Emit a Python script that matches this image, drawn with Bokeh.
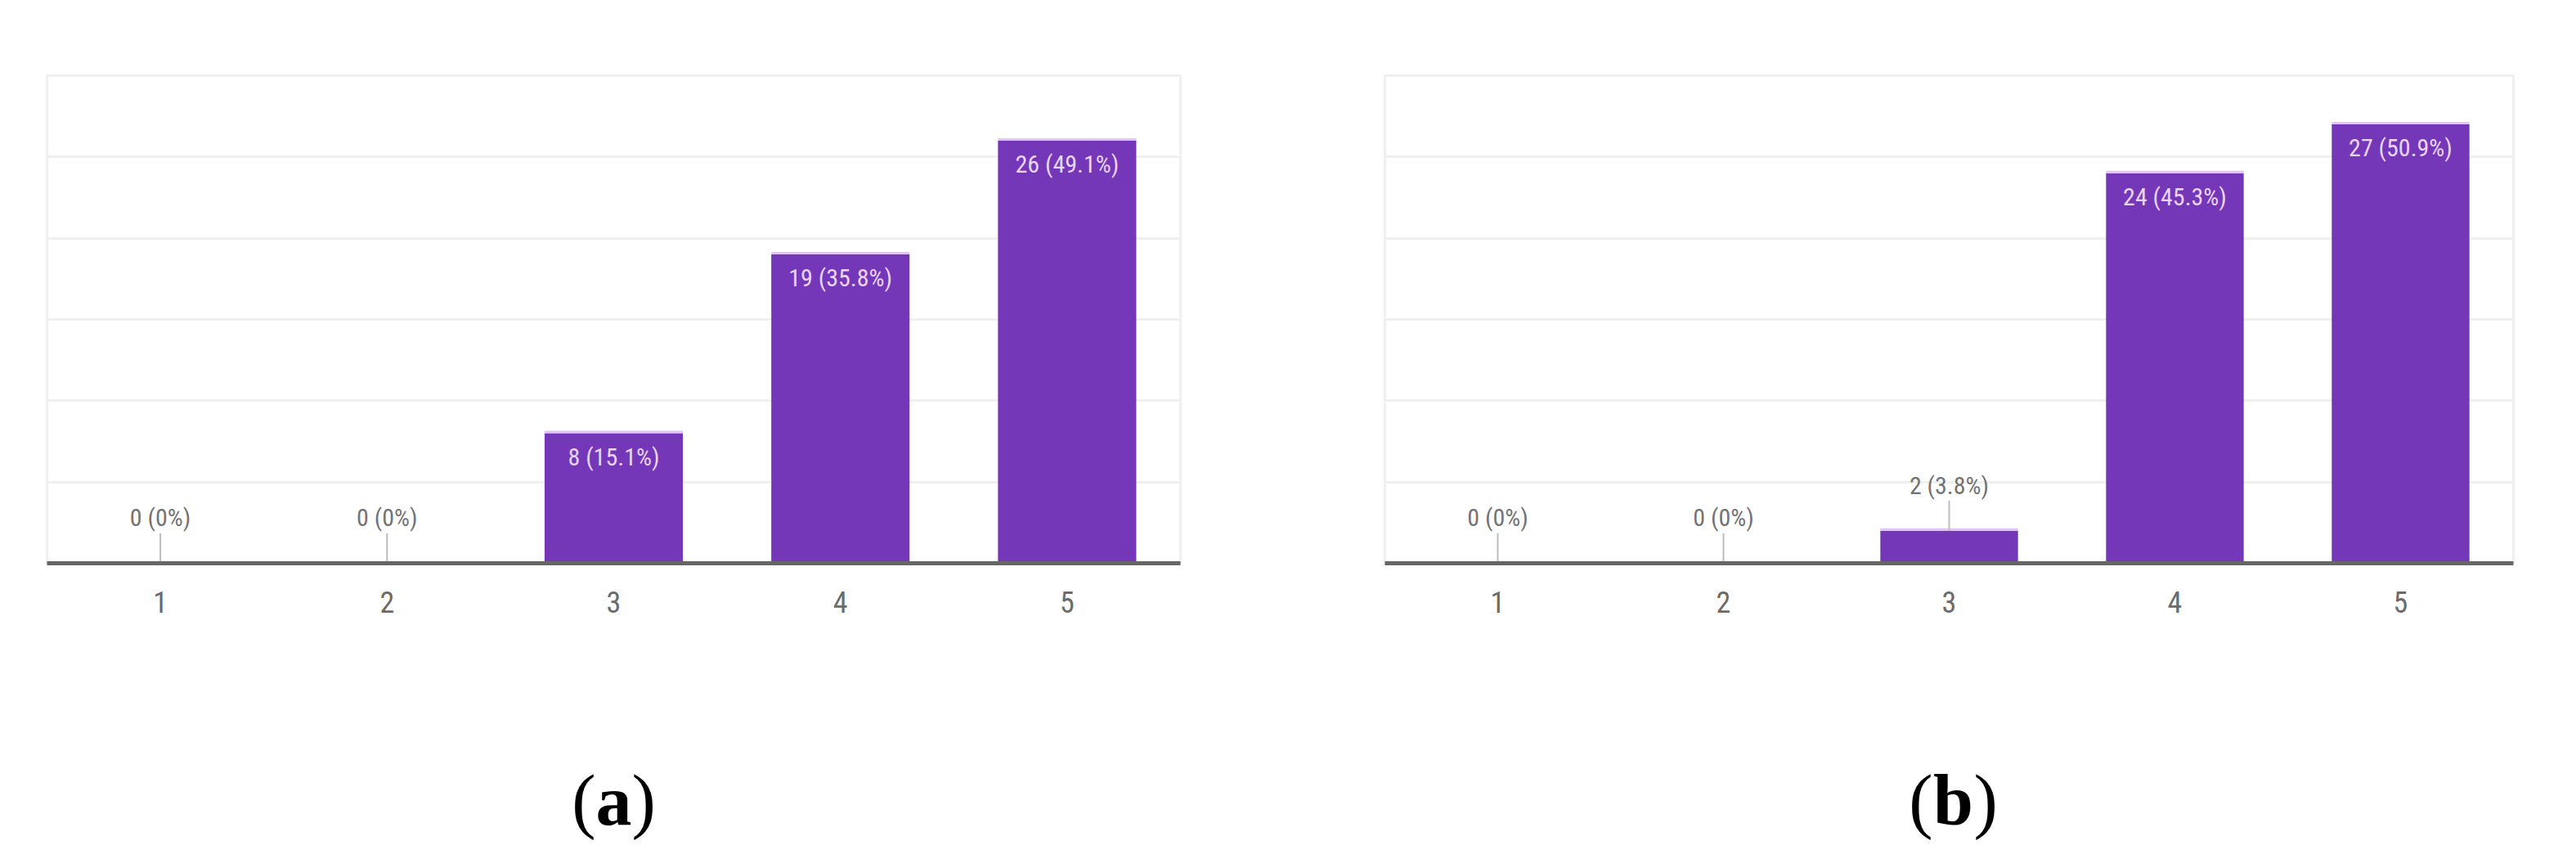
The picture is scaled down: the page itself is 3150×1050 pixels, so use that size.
from bokeh.plotting import figure
from bokeh.models import Range1d, FactorRange, FixedTicker, ColumnDataSource
from bokeh.layouts import row, column
from bokeh.core.properties import value
from bokeh.embed import file_html
from bokeh.resources import INLINE

# ---- data ----
categories = ["1", "2", "3", "4", "5"]
values_a = [0, 0, 8, 19, 26]
values_b = [0, 0, 2, 24, 27]
captions = ["a", "b"]
y_ticks = [0, 5, 10, 15, 20, 25, 30]

BAR = "#7437b8"
NARROW = "'Roboto Condensed', 'DejaVu Sans Condensed', 'Liberation Sans Narrow', 'Arial Narrow', sans-serif"


def make_panel(vals, width, height, bl, br, bt, bb):
    p = figure(width=width, height=height, x_range=FactorRange(*categories, range_padding=0),
               y_range=Range1d(0, 30), output_backend="svg", toolbar_location=None,
               y_axis_location=None, min_border_left=bl, min_border_right=br,
               min_border_top=bt, min_border_bottom=bb)
    p.background_fill_color = "white"
    p.border_fill_color = "white"
    p.outline_line_color = "#f0f0f0"
    p.outline_line_width = 3
    p.xgrid.visible = False
    for g in p.ygrid:
        g.ticker = FixedTicker(ticks=y_ticks)
        g.grid_line_color = "#f0f0f0"
        g.grid_line_width = 3
    ax = p.xaxis[0]
    ax.axis_line_color = "#666666"
    ax.axis_line_width = 5
    ax.major_tick_line_color = None
    ax.minor_tick_line_color = None
    ax.major_label_standoff = 28
    ax.major_label_text_font = NARROW
    ax.major_label_text_font_size = "36px"
    ax.major_label_text_color = "#6b6b6b"

    total = sum(vals)
    labels = []
    for v in vals:
        pct = v / total * 100
        labels.append(f"{v} (0%)" if v == 0 else f"{v} ({pct:.1f}%)")

    p.vbar(x=categories, top=vals, width=0.61, fill_color=BAR, line_color=None)

    nz = [i for i, v in enumerate(vals) if v > 0]
    src_edge = ColumnDataSource(dict(x=[categories[i] for i in nz],
                                     b=[vals[i] for i in nz],
                                     t=[vals[i] + 0.15 for i in nz]))
    p.vbar(x="x", bottom="b", top="t", width=0.61, source=src_edge,
           fill_color="#e3c4fa", line_color=None)

    inside = [i for i, v in enumerate(vals) if v >= 5]
    outside = [i for i, v in enumerate(vals) if v < 5]

    src_in = ColumnDataSource(dict(x=[categories[i] for i in inside],
                                   y=[vals[i] - 1.45 for i in inside],
                                   t=[labels[i] for i in inside]))
    p.text(x="x", y="y", text="t", source=src_in, text_align="center",
           text_baseline="middle", text_font=value(NARROW), text_font_size="30px",
           text_color="#ead5fb")

    src_out = ColumnDataSource(dict(x=[categories[i] for i in outside],
                                    y=[vals[i] + 2.8 for i in outside],
                                    y0=[vals[i] for i in outside],
                                    y1=[vals[i] + 1.85 for i in outside],
                                    t=[labels[i] for i in outside]))
    p.segment(x0="x", y0="y0", x1="x", y1="y1", source=src_out,
              line_color="#bdbdbd", line_width=2)
    p.text(x="x", y="y", text="t", source=src_out, text_align="center",
           text_baseline="middle", text_font=value(NARROW), text_font_size="30px",
           text_color="#737373")
    return p


def make_caption(cap, width, height, cx):
    c = figure(width=width, height=height, x_range=Range1d(0, width), y_range=Range1d(0, height),
               output_backend="svg", toolbar_location=None, x_axis_location=None,
               y_axis_location=None, min_border=0)
    c.outline_line_color = None
    c.grid.visible = False
    c.background_fill_color = "white"
    c.border_fill_color = "white"
    half = 22 if cap == "a" else 25
    cy = height - 118
    src = ColumnDataSource(dict(x=[cx], y=[cy], lp=["("], t=[cap], rp=[")"]))
    common = dict(x="x", y="y", source=src, text_baseline="middle",
                  text_font=value("Liberation Serif"), text_font_size="88px",
                  text_color="black")
    c.text(text="lp", x_offset=-half, text_align="right", **common)
    c.text(text="t", text_align="center", text_font_style="bold", **common)
    c.text(text="rp", x_offset=half, text_align="left", **common)
    return c


pa = make_panel(values_a, 1575, 860, 57, 132, 92, 170)
pb = make_panel(values_b, 1567, 860, 118, 69, 85, 172)
ca = make_caption(captions[0], 1575, 180, 750)
cb = make_caption(captions[1], 1567, 180, 813)

layout = column(row(pa, pb), row(ca, cb))
open("out.html", "w").write(file_html(layout, INLINE))
